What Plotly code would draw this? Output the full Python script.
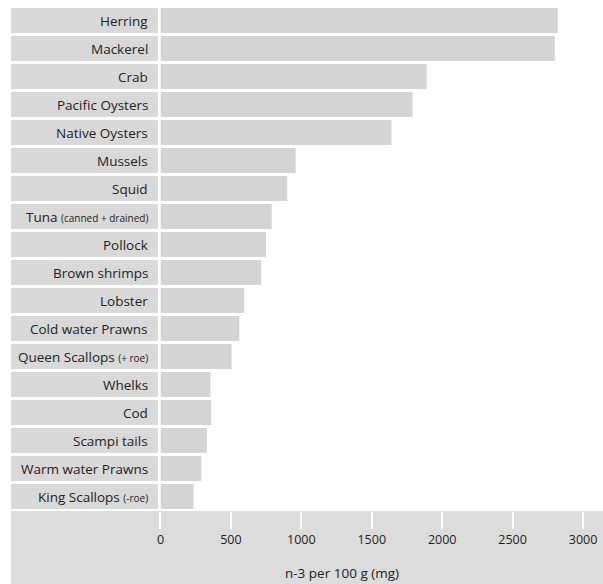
import plotly.graph_objects as go

# Omega-3 (n-3) content of seafood, mg per 100 g
species = [
    "Herring", "Mackerel", "Crab", "Pacific Oysters", "Native Oysters",
    "Mussels", "Squid", "Tuna", "Pollock", "Brown shrimps", "Lobster",
    "Cold water Prawns", "Queen Scallops", "Whelks", "Cod", "Scampi tails",
    "Warm water Prawns", "King Scallops",
]
notes = [
    "", "", "", "", "", "", "", "(canned + drained)", "", "", "",
    "", "(+ roe)", "", "", "", "", "(-roe)",
]
n3_mg = [
    2820, 2800, 1890, 1790, 1640, 960, 900, 790, 750, 715, 595,
    560, 505, 355, 360, 330, 290, 235,
]
x_ticks = [0, 500, 1000, 1500, 2000, 2500, 3000]

W, H = 603, 584
FONT = "Open Sans"
TEXT = "#222222"

fig = go.Figure()

# grey label cells, one per row
fig.add_trace(go.Bar(
    y=species, x=[1] * len(species), orientation="h",
    xaxis="x2", yaxis="y",
    marker=dict(color="#d9d9d9", line=dict(width=0)),
    hoverinfo="skip", showlegend=False,
))

# value bars
fig.add_trace(go.Bar(
    y=species, x=n3_mg, orientation="h",
    xaxis="x", yaxis="y",
    marker=dict(color="#d4d4d4", line=dict(width=0)),
    showlegend=False,
))

# row labels, with the qualifier in a smaller size
for name, note in zip(species, notes):
    txt = name
    if note:
        txt += " <span style='font-size:10px'>" + note + "</span>"
    fig.add_annotation(
        x=147 / W, xref="paper", xanchor="right",
        y=name, yref="y", yanchor="middle",
        text=txt, showarrow=False,
        font=dict(family=FONT, size=13.5, color=TEXT),
    )

# axis title
fig.add_annotation(
    x=340 / W, xref="paper", xanchor="center",
    y=1 - 573 / H, yref="paper", yanchor="middle",
    text="n-3 per 100 g (mg)", showarrow=False,
    font=dict(family=FONT, size=13.5, color=TEXT),
)

# grey band behind the x axis
fig.add_shape(
    type="rect", xref="paper", yref="paper", layer="below",
    x0=7 / W, x1=1, y0=0, y1=1 - 511 / H,
    fillcolor="#dcdcdc", line=dict(width=0),
)

x0_px = 157.5
px_per_unit = 0.1418
fig.update_layout(
    width=W, height=H,
    margin=dict(l=0, r=0, t=0, b=0),
    paper_bgcolor="white", plot_bgcolor="rgba(0,0,0,0)",
    bargap=3 / 28,
    font=dict(family=FONT, color=TEXT),
    xaxis=dict(
        domain=[x0_px / W, 1],
        range=[0, (W - x0_px) / px_per_unit],
        tickvals=x_ticks, ticktext=[str(v) for v in x_ticks],
        ticks="outside", ticklen=17, tickwidth=2, tickcolor="white",
        tickfont=dict(family=FONT, size=12.5, color=TEXT),
        showgrid=False, zeroline=False, showline=False,
        anchor="y", fixedrange=True,
    ),
    xaxis2=dict(
        domain=[7 / W, 155 / W], range=[0, 1],
        visible=False, anchor="y", fixedrange=True,
    ),
    yaxis=dict(
        domain=[1 - 510.5 / H, 1 - 6.5 / H],
        categoryorder="array", categoryarray=species,
        autorange="reversed",
        showticklabels=False, ticks="", showgrid=False,
        zeroline=False, showline=False, fixedrange=True,
    ),
)

fig.write_html("out.html")
